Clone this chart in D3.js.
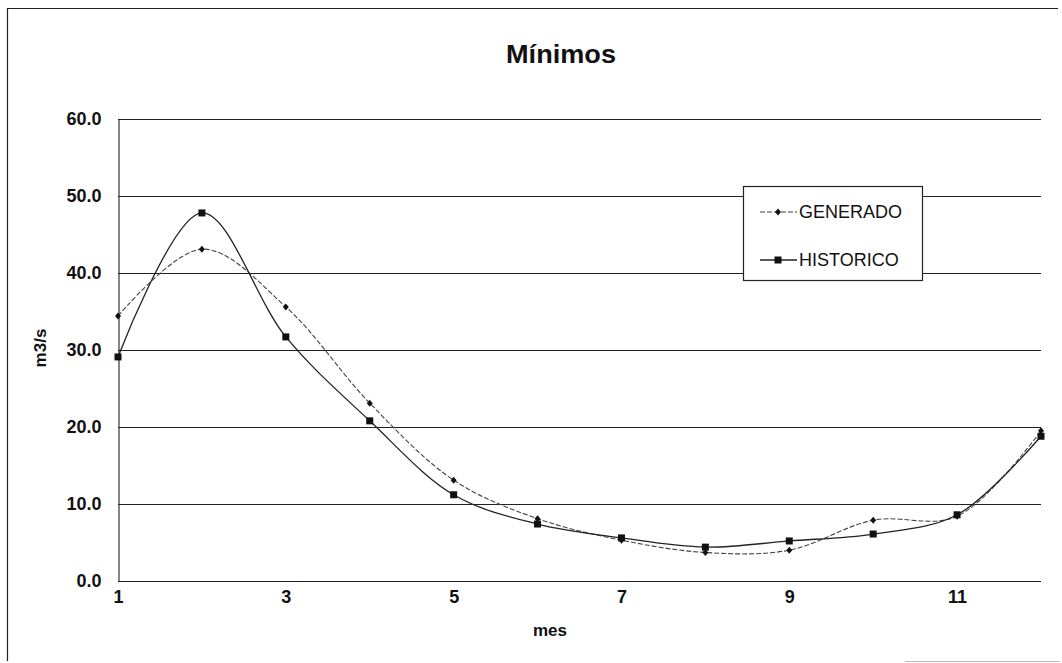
<!DOCTYPE html>
<html>
<head>
<meta charset="utf-8">
<script src="https://cdn.jsdelivr.net/npm/d3@7"></script>
<style>
  html, body { margin: 0; padding: 0; background: #fff; }
  svg { display: block; }
  text { font-family: "Liberation Sans", Arial, sans-serif; fill: #111; }
</style>
</head>
<body>
<svg id="chart" width="1062" height="663"></svg>
<script>
// Monthly minimum flows (m3/s)
const months = [1, 2, 3, 4, 5, 6, 7, 8, 9, 10, 11, 12];
const generado = [34.4, 43.1, 35.6, 23.1, 13.1, 8.1, 5.3, 3.7, 4.0, 7.9, 8.4, 19.5];
const historico = [29.1, 47.8, 31.7, 20.8, 11.2, 7.4, 5.6, 4.4, 5.2, 6.1, 8.6, 18.8];
const xTicks = [1, 3, 5, 7, 9, 11];
const yTicks = [0, 10, 20, 30, 40, 50, 60];
const seriesNames = ["GENERADO", "HISTORICO"];

const svg = d3.select("#chart");
const plot = { left: 118, right: 1041, top: 119, bottom: 581 };

const x = d3.scaleLinear().domain([1, 12]).range([plot.left, plot.right]);
const y = d3.scaleLinear().domain([0, 60]).range([plot.bottom, plot.top]);

// outer frame
svg.append("path")
  .attr("d", "M7.5,661 L7.5,8.5 L1058,8.5")
  .attr("fill", "none").attr("stroke", "#222").attr("stroke-width", 1.2);
svg.append("line")
  .attr("x1", 905).attr("x2", 1060).attr("y1", 661.5).attr("y2", 661.5)
  .attr("stroke", "#bbb").attr("stroke-width", 1);

// title
svg.append("text")
  .attr("x", 561).attr("y", 63)
  .attr("text-anchor", "middle")
  .attr("textLength", 110)
  .attr("lengthAdjust", "spacingAndGlyphs")
  .style("font-weight", "bold").style("font-size", "26px")
  .text("Mínimos");

// horizontal gridlines
svg.append("g")
  .selectAll("line")
  .data(yTicks)
  .join("line")
  .attr("x1", plot.left).attr("x2", plot.right)
  .attr("y1", d => Math.round(y(d)) + 0.5).attr("y2", d => Math.round(y(d)) + 0.5)
  .attr("stroke", "#222").attr("stroke-width", 1.1);

// value axis
const yAxis = svg.append("g")
  .attr("transform", `translate(${plot.left + 0.5},0)`)
  .call(d3.axisLeft(y).tickValues(yTicks).tickFormat(d3.format(".1f")).tickSize(0).tickPadding(17));
yAxis.select(".domain").attr("stroke", "#222").attr("stroke-width", 1.1);
yAxis.selectAll("text")
  .style("font-size", "18px").style("font-weight", "bold")
  .style("font-family", "'Liberation Sans', Arial, sans-serif")
  .attr("fill", "#111");

// category axis
const xAxis = svg.append("g")
  .attr("transform", `translate(0,${Math.round(y(0)) + 0.5})`)
  .call(d3.axisBottom(x).tickValues(xTicks).tickFormat(d3.format("d")).tickSize(0).tickPadding(9));
xAxis.select(".domain").remove();
xAxis.selectAll("text")
  .style("font-size", "18px").style("font-weight", "bold")
  .style("font-family", "'Liberation Sans', Arial, sans-serif")
  .attr("fill", "#111");

// axis titles
svg.append("text")
  .attr("x", 550).attr("y", 636)
  .attr("text-anchor", "middle")
  .style("font-size", "17px").style("font-weight", "bold")
  .text("mes");
svg.append("text")
  .attr("transform", "translate(46,348) rotate(-90)")
  .attr("text-anchor", "middle")
  .style("font-size", "17px").style("font-weight", "bold")
  .text("m3/s");

// smoothed series
const line = d3.line()
  .x((d, i) => x(months[i]))
  .y(d => y(d))
  .curve(d3.curveCatmullRom.alpha(0.5));

const styles = [
  { data: generado, dash: "5,2", width: 1.1, color: "#444", marker: "diamond" },
  { data: historico, dash: null, width: 1.3, color: "#222", marker: "square" }
];

const g = svg.append("g");
styles.forEach(s => {
  g.append("path")
    .datum(s.data)
    .attr("d", line)
    .attr("fill", "none")
    .attr("stroke", s.color)
    .attr("stroke-width", s.width)
    .attr("stroke-dasharray", s.dash);
});

function drawMarker(sel, type) {
  if (type === "diamond") {
    sel.append("path").attr("d", "M0,-3.5 L3,0 L0,3.5 L-3,0 Z").attr("fill", "#111");
  } else {
    sel.append("rect").attr("x", -3.5).attr("y", -3.5).attr("width", 7).attr("height", 7)
      .attr("fill", "#111");
  }
}

styles.forEach(s => {
  g.append("g").selectAll("g")
    .data(s.data)
    .join("g")
    .attr("transform", (d, i) => `translate(${x(months[i])},${y(d)})`)
    .each(function () { drawMarker(d3.select(this), s.marker); });
});

// legend
const legend = svg.append("g");
legend.append("rect")
  .attr("x", 743.5).attr("y", 186.5).attr("width", 179).attr("height", 94)
  .attr("fill", "#fff").attr("stroke", "#222").attr("stroke-width", 1.2);
const legendRows = [212, 260];
styles.forEach((s, i) => {
  const ly = legendRows[i];
  legend.append("line")
    .attr("x1", 760).attr("x2", 797).attr("y1", ly).attr("y2", ly)
    .attr("stroke", s.color).attr("stroke-width", s.width)
    .attr("stroke-dasharray", s.dash);
  const m = legend.append("g").attr("transform", `translate(778,${ly})`);
  drawMarker(m, s.marker);
  legend.append("text")
    .attr("x", 799).attr("y", ly + 6)
    .style("font-size", "18px")
    .text(seriesNames[i]);
});
</script>
</body>
</html>
